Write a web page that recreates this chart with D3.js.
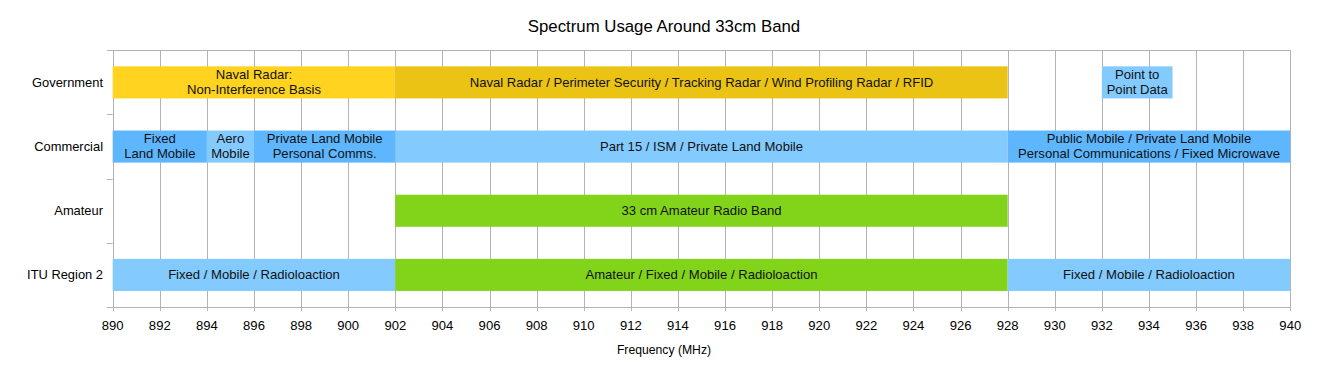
<!DOCTYPE html>
<html><head><meta charset="utf-8">
<script src="https://cdn.jsdelivr.net/npm/d3@7"></script>
<style>body{margin:0;background:#fff}text{font-family:"Liberation Sans",Arial,sans-serif}</style>
</head><body>
<svg id="c" width="1328" height="377"></svg>
<script>
const title = "Spectrum Usage Around 33cm Band";
const xTitle = "Frequency (MHz)";
const categories = ["Government","Commercial","Amateur","ITU Region 2"];
const xTicks = d3.range(890, 941, 2);
const segCategory = ["Government","Government","Government","Commercial","Commercial","Commercial","Commercial","Commercial","Amateur","ITU Region 2","ITU Region 2","ITU Region 2"];
const segStart = [890,902,932,890,894,896,902,928,902,890,902,928];
const segEnd   = [902,928,935,894,896,902,928,940,928,902,928,940];
const segLabel = ["Naval Radar:\nNon-Interference Basis","Naval Radar / Perimeter Security / Tracking Radar / Wind Profiling Radar / RFID","Point to\nPoint Data","Fixed\nLand Mobile","Aero\nMobile","Private Land Mobile\nPersonal Comms.","Part 15 / ISM / Private Land Mobile","Public Mobile / Private Land Mobile\nPersonal Communications / Fixed Microwave","33 cm Amateur Radio Band","Fixed / Mobile / Radioloaction","Amateur / Fixed / Mobile / Radioloaction","Fixed / Mobile / Radioloaction"];
const segColor = ["#ffd320","#ebc315","#83caff","#5eb6ff","#83caff","#5eb6ff","#83caff","#5eb6ff","#81d41a","#83caff","#81d41a","#83caff"];

const svg = d3.select("#c");
const L = 112.7, R = 1290.3, T = 50.3, B = 307;
const x = d3.scaleLinear().domain([890,940]).range([L,R]);
const y = d3.scaleBand().domain(categories).range([T,B]).paddingInner(0).paddingOuter(0);
const grid = "#b3b3b3";
const fs = 13.1;

svg.append("g").selectAll("line").data(xTicks).join("line")
  .attr("x1",d=>Math.round(x(d))+0.5).attr("x2",d=>Math.round(x(d))+0.5)
  .attr("y1",T).attr("y2",B+4).attr("stroke",grid).attr("stroke-width",1);
[T,B].forEach(v=>svg.append("line").attr("x1",107).attr("x2",R+0.5).attr("y1",Math.round(v)+0.5).attr("y2",Math.round(v)+0.5).attr("stroke",grid));
const bounds = categories.map(c=>y(c)).concat([B]);
svg.append("g").selectAll("line").data(bounds).join("line")
  .attr("x1",107).attr("x2",L).attr("y1",d=>Math.round(d)+0.5).attr("y2",d=>Math.round(d)+0.5).attr("stroke",grid);

const segs = segStart.map((s,i)=>({cat:segCategory[i],s,e:segEnd[i],label:segLabel[i],color:segColor[i]}));
const bh = y.bandwidth()*0.5;
const g = svg.append("g");
g.selectAll("rect").data(segs).join("rect")
  .attr("x",d=>x(d.s)).attr("width",d=>x(d.e)-x(d.s))
  .attr("y",d=>y(d.cat)+(y.bandwidth()-bh)/2).attr("height",bh)
  .attr("fill",d=>d.color);
segs.forEach(d=>{
  const lines = d.label.split("\n");
  const cy = y(d.cat)+y.bandwidth()/2;
  const lh = 15;
  const t = g.append("text").attr("text-anchor","middle").attr("font-size",fs).attr("fill","#111");
  lines.forEach((ln,i)=>{
    t.append("tspan").attr("x",(x(d.s)+x(d.e))/2)
      .attr("y",cy + (i-(lines.length-1)/2)*lh + 4.2).text(ln);
  });
});

svg.append("g").selectAll("text").data(categories).join("text")
  .attr("x",103).attr("y",d=>y(d)+y.bandwidth()/2+4.5).attr("text-anchor","end")
  .attr("font-size",12.9).attr("fill","#000").text(d=>d);

svg.append("g").selectAll("text").data(xTicks).join("text")
  .attr("x",d=>x(d)).attr("y",329.5).attr("text-anchor","middle")
  .attr("font-size",fs).attr("fill","#000").text(d=>d);

svg.append("text").attr("x",664).attr("y",354).attr("text-anchor","middle")
  .attr("font-size",12.2).attr("fill","#000").text(xTitle);
svg.append("text").attr("x",664).attr("y",32).attr("text-anchor","middle")
  .attr("font-size",16.8).attr("fill","#000").text(title);
</script>
</body></html>
